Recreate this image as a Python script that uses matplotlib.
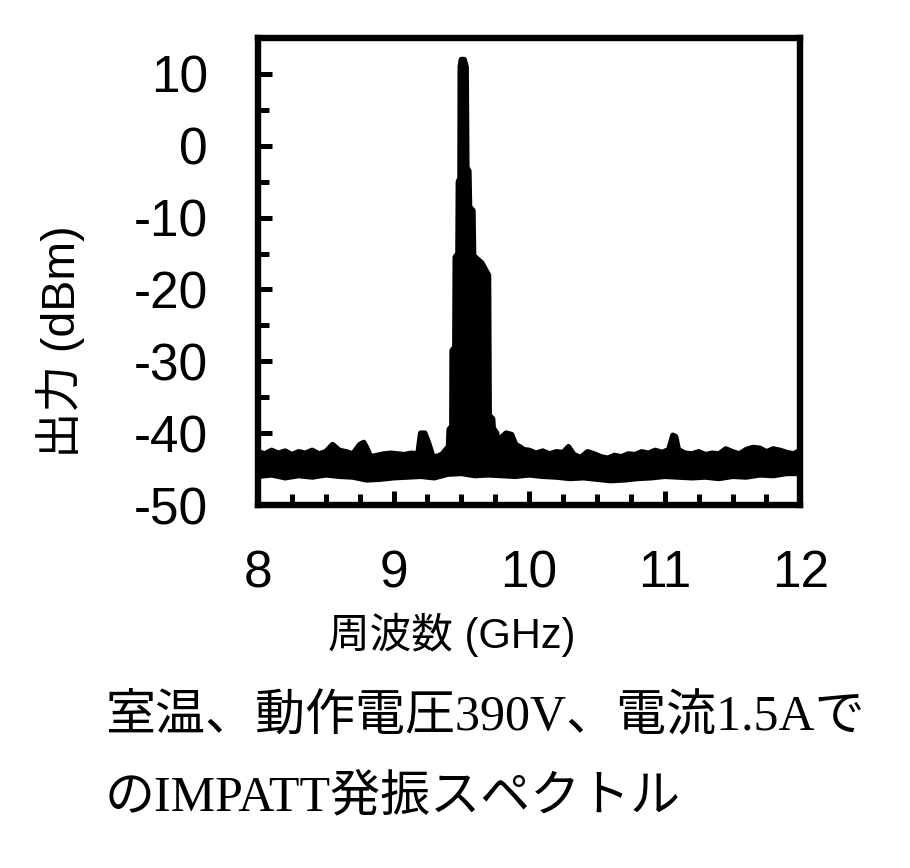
import matplotlib
matplotlib.use('Agg')
import matplotlib.pyplot as plt
from matplotlib.ticker import MultipleLocator

plt.rcParams['axes.unicode_minus'] = False

# upper envelope of the noise floor (GHz, dBm)
floor_f = [8.00, 8.05, 8.10, 8.15, 8.20, 8.25, 8.30, 8.35, 8.40, 8.45,
           8.50, 8.55, 8.60, 8.65, 8.70, 8.75, 8.78, 8.80, 8.83, 8.88,
           8.93, 8.98, 9.03, 9.08, 9.13, 9.18, 9.20, 9.23, 9.26, 9.29,
           9.33, 9.36, 9.39]
floor_top = [-42.6, -42.9, -42.4, -42.8, -42.5, -43.0, -42.6, -42.8, -42.4, -42.9,
             -42.6, -41.6, -42.4, -42.6, -42.9, -41.6, -41.3, -42.0, -43.3, -43.1,
             -42.9, -42.8, -42.9, -43.0, -42.8, -42.9, -40.0, -40.0, -41.5, -43.3,
             -43.2, -42.9, -42.2]

# main oscillation peak
peak_f = [9.405, 9.41, 9.43, 9.432, 9.452, 9.455, 9.475, 9.478, 9.49, 9.492,
          9.50, 9.52, 9.535, 9.54, 9.555, 9.56, 9.585, 9.59, 9.62, 9.65,
          9.685, 9.70, 9.705, 9.73, 9.735, 9.76, 9.77]
peak_top = [-42.0, -39.5, -39.0, -28.5, -28.0, -15.5, -15.0, -5.0, -4.5, 11.0,
            12.0, 12.0, 11.0, -3.0, -3.5, -8.5, -9.0, -15.3, -15.8, -16.3,
            -17.5, -18.0, -37.5, -38.0, -39.3, -40.0, -42.0]

floor2_f = [9.80, 9.83, 9.87, 9.90, 9.93, 9.96, 10.00, 10.05, 10.10, 10.15,
            10.20, 10.25, 10.29, 10.33, 10.38, 10.43, 10.48, 10.53, 10.58, 10.63,
            10.68, 10.73, 10.78, 10.83, 10.88, 10.93, 10.98, 11.03, 11.06, 11.08,
            11.10, 11.15, 11.20, 11.25, 11.30, 11.35, 11.40, 11.45, 11.50, 11.55,
            11.60, 11.65, 11.70, 11.75, 11.80, 11.85, 11.90, 11.95, 12.00]
floor2_top = [-40.5, -40.0, -40.2, -41.6, -41.9, -42.3, -42.4, -42.8, -42.5, -42.9,
              -42.6, -42.7, -41.9, -43.0, -43.4, -42.6, -42.9, -43.3, -43.5, -43.1,
              -43.3, -42.9, -43.0, -42.6, -42.8, -42.4, -42.7, -42.3, -40.3, -40.5,
              -42.3, -42.8, -42.9, -42.6, -43.0, -42.8, -42.9, -42.2, -42.6, -42.9,
              -42.3, -42.0, -42.1, -42.6, -42.2, -42.4, -42.7, -42.9, -42.4]

# lower envelope of the trace
low_f = [8.0, 8.1, 8.2, 8.3, 8.4, 8.5, 8.6, 8.7, 8.8, 8.9, 9.0, 9.1, 9.2, 9.3,
         9.4, 9.5, 9.6, 9.7, 9.8, 9.9, 10.0, 10.1, 10.2, 10.3, 10.4, 10.5, 10.6,
         10.7, 10.8, 10.9, 11.0, 11.1, 11.2, 11.3, 11.4, 11.5, 11.6, 11.7, 11.8,
         11.9, 12.0]
low_v = [-46.0, -45.8, -46.2, -45.9, -46.1, -45.8, -46.0, -46.1, -46.5, -46.4,
         -46.2, -46.1, -46.0, -46.2, -45.7, -45.6, -45.9, -45.8, -45.9, -46.0,
         -45.8, -46.0, -46.1, -46.3, -46.2, -46.4, -46.6, -46.5, -46.3, -46.2,
         -46.0, -46.1, -46.2, -46.1, -46.3, -46.0, -46.1, -45.8, -45.9, -45.6,
         -45.6]

top_f = floor_f + peak_f + floor2_f
top_v = floor_top + peak_top + floor2_top

fig = plt.figure(figsize=(9.10, 8.68), dpi=100)
ax = fig.add_axes([0.2835, 0.4182, 0.596, 0.538])

# trace region between the two envelopes
ax.fill(top_f + low_f[::-1], top_v + low_v[::-1], color='black', lw=0)
ax.plot(top_f, top_v, color='black', lw=4, solid_joinstyle='round', solid_capstyle='round')
ax.plot(low_f, low_v, color='black', lw=4, solid_joinstyle='round', solid_capstyle='round')

ax.set_xlim(8, 12)
ax.set_ylim(-50, 15)
ax.xaxis.set_major_locator(MultipleLocator(1))
ax.xaxis.set_minor_locator(MultipleLocator(0.25))
ax.yaxis.set_minor_locator(MultipleLocator(5))
ax.set_yticks([10, 0, -10, -20, -30, -40, -50])

for s in ax.spines.values():
    s.set_linewidth(4.6)
ax.tick_params(axis='both', which='major', direction='in', length=10, width=3.6,
               labelsize=37, pad=32)
ax.tick_params(axis='y', which='major', pad=36)
ax.tick_params(axis='both', which='minor', direction='in', length=8, width=3.6)
for lab in ax.get_xticklabels() + ax.get_yticklabels():
    lab.set_family('Liberation Sans')

lab_font = ['Liberation Sans', 'Noto Sans CJK JP']
fig.text(60 / 910, 1 - 342 / 868, '出力 (dBm)', rotation=90, ha='center', va='center',
         fontsize=33.5, family=lab_font)
fig.text(452 / 910, 1 - 635 / 868, '周波数 (GHz)', ha='center', va='center',
         fontsize=30, family=lab_font)

cap_font = ['Liberation Serif', 'Noto Sans CJK JP']
fig.text(105 / 910, 1 - 717 / 868, '室温、動作電圧390V、電流1.5Aで', ha='left', va='center',
         fontsize=36, family=cap_font)
fig.text(105 / 910, 1 - 798 / 868, 'のIMPATT発振スペクトル', ha='left', va='center',
         fontsize=36, family=cap_font)

fig.savefig('out.png', dpi=100)
